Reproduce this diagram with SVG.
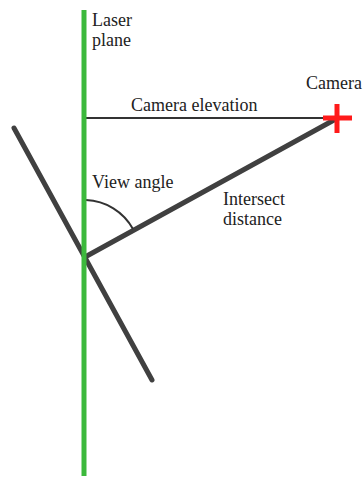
<svg xmlns="http://www.w3.org/2000/svg" width="364" height="477" viewBox="0 0 364 477">
<style>
text{font-family:"Liberation Serif","Times New Roman",serif;font-size:18px;fill:#222}
.dark{stroke:#404040;stroke-width:5;stroke-linecap:round;fill:none}
.thin{stroke:#333;stroke-width:2;fill:none}
</style>
<rect width="364" height="477" fill="#fff"/>
<g id="connectors">
<line class="dark" x1="14" y1="128" x2="152" y2="380"/>
<line class="dark" x1="85" y1="257" x2="334" y2="120"/>
<line class="thin" x1="86" y1="118" x2="334" y2="118"/>
<path class="thin" d="M86 200 A56 56 0 0 1 133 229" stroke-width="1.5"/>
</g>
<g id="laser-plane">
<line x1="84" y1="10" x2="84" y2="476" stroke="#3cb93c" stroke-width="5"/>
<text x="92" y="26">Laser</text>
<text x="92" y="46">plane</text>
</g>
<g id="camera">
<line x1="323" y1="118" x2="352" y2="118" stroke="#ff1a1a" stroke-width="5"/>
<line x1="337" y1="104" x2="337" y2="133" stroke="#ff1a1a" stroke-width="5"/>
<text x="306" y="89">Camera</text>
</g>
<g id="labels">
<text x="131" y="111">Camera elevation</text>
<text x="92" y="188">View angle</text>
<text x="223" y="205">Intersect</text>
<text x="223" y="225">distance</text>
</g>
</svg>
